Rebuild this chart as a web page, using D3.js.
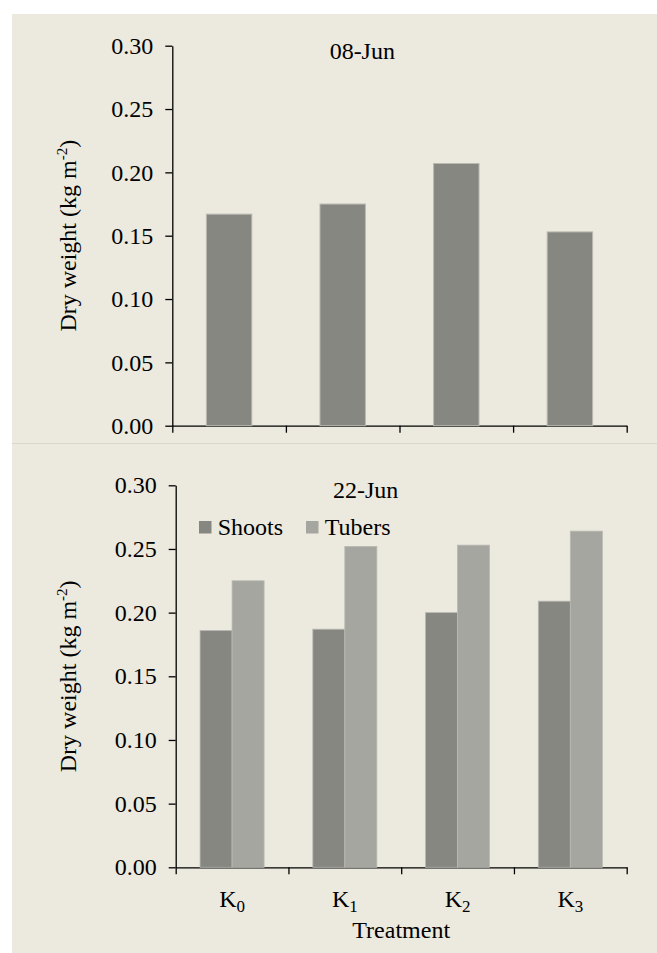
<!DOCTYPE html>
<html>
<head>
<meta charset="utf-8">
<script src="https://cdn.jsdelivr.net/npm/d3@7"></script>
<style>
  body { margin: 0; background: #fff; }
  text { font-family: "Liberation Serif", "Times New Roman", serif; fill: #000; }
  .axis path, .axis line { stroke: #000; stroke-width: 1.3; }
</style>
</head>
<body>
<div id="chart"></div>
<script>
var treatments = ["0", "1", "2", "3"];          // K subscripts
var seriesNames = ["Shoots", "Tubers"];
var june08 = [0.167, 0.175, 0.207, 0.153];
var june22Shoots = [0.186, 0.187, 0.200, 0.209];
var june22Tubers = [0.225, 0.252, 0.253, 0.264];
var yTicks = [0.00, 0.05, 0.10, 0.15, 0.20, 0.25, 0.30];

var colors = {Shoots: "#878782", Tubers: "#a5a69f"};
var barStroke = "#b9b9b2";
var fontSize = 24;

var svg = d3.select("#chart")
  .append("svg")
    .attr("width", 657)
    .attr("height", 953);

svg.append("rect")
  .attr("x", 12).attr("y", 14)
  .attr("width", 645).attr("height", 939)
  .attr("fill", "#ece9df");

svg.append("line")
  .attr("x1", 12).attr("x2", 657)
  .attr("y1", 443.5).attr("y2", 443.5)
  .attr("stroke", "#d9d6cc")
  .attr("stroke-width", 1);

function drawFrame(left, right, top, bottom, title) {
  var y = d3.scaleLinear().domain([0, 0.30]).range([bottom, top]);

  svg.append("g")
     .attr("class", "axis")
     .attr("transform", "translate(" + left + ",0)")
     .call(d3.axisLeft(y)
             .tickValues(yTicks)
             .tickFormat(d3.format(".2f"))
             .tickSize(7)
             .tickSizeOuter(0)
             .tickPadding(12))
     .selectAll("text")
       .style("font-size", fontSize + "px")
       .style("font-family", "Liberation Serif");

  // x axis: ticks on the category boundaries
  var edges = d3.scaleLinear().domain([0, treatments.length]).range([left, right]);
  svg.append("g")
     .attr("class", "axis")
     .attr("transform", "translate(0," + bottom + ")")
     .call(d3.axisBottom(edges)
             .tickValues(d3.range(treatments.length + 1))
             .tickFormat("")
             .tickSize(7)
             .tickSizeOuter(0));

  svg.append("text")
     .attr("x", left + 190)
     .attr("y", top + 13)
     .attr("text-anchor", "middle")
     .style("font-size", fontSize + "px")
     .text(title);

  var lab = svg.append("text")
     .attr("transform", "translate(76," + ((top + bottom) / 2) + ") rotate(-90)")
     .attr("text-anchor", "middle")
     .style("font-size", fontSize + "px");
  lab.append("tspan").text("Dry weight (kg m");
  lab.append("tspan").attr("dy", -9).style("font-size", "15px").text("-2");
  lab.append("tspan").attr("dy", 9).text(")");

  return y;
}

// ---- 08-Jun ----
var top1 = {left: 172.3, right: 626.7, top: 45.7, bottom: 425.7};
var y1 = drawFrame(top1.left, top1.right, top1.top, top1.bottom, "08-Jun");

var x1 = d3.scaleBand()
  .domain(treatments)
  .range([top1.left, top1.right])
  .paddingInner(0.6)
  .paddingOuter(0.3);

svg.selectAll(".bar1")
   .data(june08)
   .enter().append("rect")
   .attr("class", "bar1")
   .attr("x", function(d, i) { return x1(treatments[i]); })
   .attr("width", x1.bandwidth())
   .attr("y", function(d) { return y1(d); })
   .attr("height", function(d) { return top1.bottom - y1(d); })
   .attr("fill", colors.Shoots)
   .attr("stroke", barStroke)
   .attr("stroke-width", 1);

// ---- 22-Jun ----
var bot = {left: 175.7, right: 626.7, top: 485.3, bottom: 867.3};
var y2 = drawFrame(bot.left, bot.right, bot.top, bot.bottom, "22-Jun");

var x2 = d3.scaleBand()
  .domain(treatments)
  .range([bot.left, bot.right])
  .paddingInner(0.432)
  .paddingOuter(0.216);

var xSub = d3.scaleBand()
  .domain(seriesNames)
  .range([0, x2.bandwidth()]);

var rows = treatments.map(function(t, i) {
  return {t: t, values: [
    {name: "Shoots", value: june22Shoots[i]},
    {name: "Tubers", value: june22Tubers[i]}
  ]};
});

svg.selectAll(".grp")
   .data(rows)
   .enter().append("g")
   .attr("class", "grp")
   .attr("transform", function(d) { return "translate(" + x2(d.t) + ",0)"; })
   .selectAll("rect")
   .data(function(d) { return d.values; })
   .enter().append("rect")
   .attr("x", function(d) { return xSub(d.name); })
   .attr("width", xSub.bandwidth())
   .attr("y", function(d) { return y2(d.value); })
   .attr("height", function(d) { return bot.bottom - y2(d.value); })
   .attr("fill", function(d) { return colors[d.name]; })
   .attr("stroke", barStroke)
   .attr("stroke-width", 0.8);

// category labels K0..K3
svg.selectAll(".klab")
   .data(treatments)
   .enter().append("text")
   .attr("class", "klab")
   .attr("x", function(d) { return x2(d) + x2.bandwidth() / 2; })
   .attr("y", 906.7)
   .attr("text-anchor", "middle")
   .style("font-size", fontSize + "px")
   .each(function(d) {
     var t = d3.select(this);
     t.append("tspan").text("K");
     t.append("tspan").attr("dy", 5).style("font-size", "17px").text(d);
   });

svg.append("text")
   .attr("x", (bot.left + bot.right) / 2)
   .attr("y", 938.3)
   .attr("text-anchor", "middle")
   .style("font-size", fontSize + "px")
   .text("Treatment");

// legend
var legendX = [199, 306];
var legend = svg.selectAll(".leg")
   .data(seriesNames)
   .enter().append("g")
   .attr("class", "leg")
   .attr("transform", function(d, i) { return "translate(" + legendX[i] + ",521)"; });

legend.append("rect")
   .attr("width", 12.5).attr("height", 12.5)
   .attr("fill", function(d) { return colors[d]; });

legend.append("text")
   .attr("x", 18.7)
   .attr("y", 14)
   .style("font-size", fontSize + "px")
   .text(function(d) { return d; });
</script>
</body>
</html>
